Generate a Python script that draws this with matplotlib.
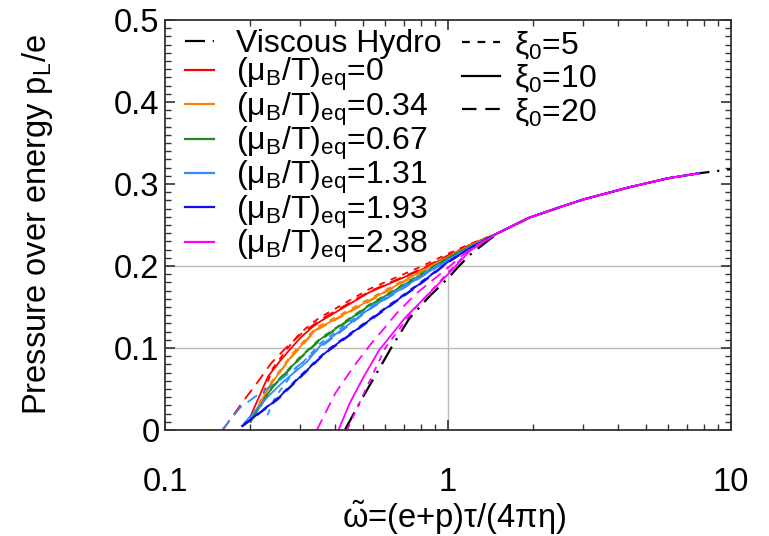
import matplotlib

matplotlib.use("Agg")
import matplotlib.pyplot as plt
from matplotlib.lines import Line2D
from matplotlib.ticker import FixedLocator, LogLocator, NullFormatter

plt.rcParams["font.family"] = ["Liberation Sans", "DejaVu Sans"]
plt.rcParams["mathtext.fontset"] = "custom"
plt.rcParams["mathtext.rm"] = "Liberation Sans"
plt.rcParams["mathtext.it"] = "Liberation Sans"

# Shared tail: all curves merge above omega ~ 1.3
COMMON_X = [1.5, 1.94, 2.5, 3.0, 4.37, 6.0, 7.7]
COMMON_Y = [0.240, 0.259, 0.272, 0.281, 0.296, 0.307, 0.313]

# Viscous hydro (black dash-dot), runs to the right edge
HYDRO_X = [0.432, 0.5, 0.632, 0.73, 0.86, 1.0, 1.08, 1.2, 1.35]
HYDRO_Y = [0.0, 0.040, 0.101, 0.136, 0.163, 0.185, 0.198, 0.214, 0.228]
HYDRO_END_X = [10.0]
HYDRO_END_Y = [0.318]

MU_LABELS = ["0", "0.34", "0.67", "1.31", "1.93", "2.38"]
MU_COLORS = ["#ff0000", "#ff8000", "#1e8c1e", "#2f8cff", "#1010ee", "#ff00ff"]
XI_LABELS = ["5", "10", "20"]

# (x, y) per mu, per xi0 = 5, 10, 20 (before joining the common tail)
RED_X = [
    [0.215, 0.24, 0.276, 0.3, 0.33, 0.352, 0.528, 0.8, 1.0, 1.2],
    [0.2, 0.231, 0.256, 0.276, 0.3, 0.33, 0.352, 0.528, 0.8, 1.0, 1.2],
    [0.16, 0.188, 0.211, 0.238, 0.269, 0.3, 0.352, 0.528, 0.8, 1.0, 1.2],
]
RED_Y = [
    [0.03, 0.075, 0.103, 0.118, 0.130, 0.137, 0.172, 0.199, 0.215, 0.227],
    [0.016, 0.065, 0.085, 0.098, 0.112, 0.125, 0.132, 0.168, 0.195, 0.212, 0.226],
    [0.0, 0.034, 0.057, 0.082, 0.101, 0.116, 0.134, 0.169, 0.196, 0.213, 0.226],
]
ORANGE_X = [
    [0.205, 0.238, 0.28, 0.34, 0.528, 0.8, 1.0, 1.2],
    [0.2, 0.238, 0.28, 0.34, 0.528, 0.8, 1.0, 1.2],
    [0.2, 0.236, 0.28, 0.34, 0.528, 0.8, 1.0, 1.2],
]
ORANGE_Y = [
    [0.014, 0.059, 0.092, 0.124, 0.160, 0.194, 0.211, 0.225],
    [0.012, 0.057, 0.090, 0.122, 0.158, 0.193, 0.211, 0.225],
    [0.010, 0.056, 0.089, 0.121, 0.157, 0.192, 0.210, 0.225],
]
GREEN_X = [
    [0.2, 0.24, 0.3, 0.352, 0.528, 0.8, 1.0, 1.2],
    [0.2, 0.24, 0.3, 0.352, 0.528, 0.8, 1.0, 1.2],
    [0.2, 0.24, 0.3, 0.352, 0.528, 0.8, 1.0, 1.2],
]
GREEN_Y = [
    [0.011, 0.054, 0.089, 0.111, 0.153, 0.190, 0.210, 0.224],
    [0.010, 0.053, 0.088, 0.110, 0.152, 0.189, 0.210, 0.224],
    [0.009, 0.052, 0.087, 0.109, 0.151, 0.188, 0.209, 0.224],
]
LBLUE_X = [
    [0.23, 0.245, 0.28, 0.352, 0.528, 0.8, 1.0, 1.2],
    [0.19, 0.23, 0.26, 0.317, 0.352, 0.528, 0.8, 1.0, 1.2],
    [0.159, 0.184, 0.207, 0.255, 0.3, 0.352, 0.528, 0.8, 1.0, 1.2],
]
LBLUE_Y = [
    [0.018, 0.040, 0.067, 0.105, 0.150, 0.189, 0.208, 0.223],
    [0.008, 0.040, 0.058, 0.083, 0.102, 0.148, 0.187, 0.207, 0.223],
    [0.0, 0.027, 0.040, 0.061, 0.080, 0.100, 0.147, 0.186, 0.207, 0.223],
]
BLUE_X = [
    [0.19, 0.248, 0.352, 0.38, 0.528, 0.8, 1.0, 1.2],
    [0.187, 0.248, 0.352, 0.38, 0.528, 0.8, 1.0, 1.2],
    [0.187, 0.25, 0.352, 0.38, 0.528, 0.8, 1.0, 1.2],
]
BLUE_Y = [
    [0.006, 0.038, 0.089, 0.099, 0.135, 0.180, 0.205, 0.222],
    [0.005, 0.037, 0.088, 0.098, 0.134, 0.179, 0.205, 0.222],
    [0.004, 0.037, 0.087, 0.097, 0.133, 0.178, 0.204, 0.222],
]
MAG_X = [
    [0.44, 0.5, 0.6, 0.75, 1.0, 1.2],
    [0.41, 0.45, 0.5, 0.57, 0.71, 0.86, 1.0, 1.2],
    [0.344, 0.4, 0.47, 0.537, 0.582, 0.657, 0.77, 1.0, 1.2],
]
MAG_Y = [
    [0.0, 0.042, 0.100, 0.145, 0.192, 0.220],
    [0.0, 0.033, 0.063, 0.097, 0.138, 0.167, 0.190, 0.219],
    [0.0, 0.045, 0.080, 0.106, 0.120, 0.142, 0.166, 0.198, 0.221],
]

CURVES_X = [RED_X, ORANGE_X, GREEN_X, LBLUE_X, BLUE_X, MAG_X]
CURVES_Y = [RED_Y, ORANGE_Y, GREEN_Y, LBLUE_Y, BLUE_Y, MAG_Y]

XI_STYLES = [(0, (3.5, 3.5)), "-", (0, (6.5, 4))]
HYDRO_STYLE = (0, (9, 3.5, 1, 3.5))
FS = 23.5
LFS = 23

fig = plt.figure(figsize=(7.69, 5.36), dpi=100)
ax = fig.add_axes([0.2146, 0.1978, 0.736, 0.765])

# grid only visible below the key
ax.axhline(0.1, color="#bbbbbb", lw=1.0, zorder=0)
ax.axhline(0.2, color="#bbbbbb", lw=1.0, zorder=0)
ax.vlines(1.0, 0.0, 0.2, color="#bbbbbb", lw=1.0, zorder=0)

ax.plot(HYDRO_X + COMMON_X + HYDRO_END_X, HYDRO_Y + COMMON_Y + HYDRO_END_Y,
        color="black", lw=1.6, linestyle=HYDRO_STYLE)

for color, xs_mu, ys_mu in zip(MU_COLORS, CURVES_X, CURVES_Y):
    for style, xs, ys in zip(XI_STYLES, xs_mu, ys_mu):
        ax.plot(xs + COMMON_X, ys + COMMON_Y, color=color, lw=1.3, linestyle=style)

ax.set_xscale("log")
ax.set_xlim(0.1, 10)
ax.set_ylim(0, 0.5)
ax.xaxis.set_major_locator(FixedLocator([0.1, 1, 10]))
ax.set_xticklabels(["0.1", "1", "10"])
ax.xaxis.set_minor_locator(LogLocator(base=10, subs=range(2, 10)))
ax.xaxis.set_minor_formatter(NullFormatter())
ax.set_yticks([0, 0.1, 0.2, 0.3, 0.4, 0.5])
ax.set_yticklabels(["0", "0.1", "0.2", "0.3", "0.4", "0.5"])
ax.yaxis.set_minor_locator(FixedLocator([i / 100 for i in range(51)]))
ax.tick_params(which="both", direction="in", top=True, right=True,
               labelsize=FS, color="#333333")
ax.tick_params(axis="x", which="major", length=7, width=1.2, pad=27)
ax.tick_params(axis="y", which="major", length=7, width=1.2, pad=4)
ax.tick_params(which="minor", length=4, width=1.0)
for sp in ax.spines.values():
    sp.set_linewidth(1.3)
    sp.set_color("#333333")

ax.set_ylabel("Pressure over energy p$_\\mathregular{L}$/e", fontsize=FS)
ax.set_xlabel(r"$\tilde{\omega}$=(e+p)τ/(4πη)", fontsize=FS)
ax.yaxis.set_label_coords(-0.195, 0.5)
ax.xaxis.set_label_coords(0.51, -0.168)

# key: left column (hydro + mu), right column (xi0 styles)
left_handles = [Line2D([], [], color="black", lw=1.6, linestyle=HYDRO_STYLE)]
left_labels = ["Viscous Hydro"]
for color, mu in zip(MU_COLORS, MU_LABELS):
    left_handles.append(Line2D([], [], color=color, lw=1.6))
    left_labels.append("(μ$_\\mathregular{B}$/T)$_\\mathregular{eq}$=" + mu)
leg1 = ax.legend(left_handles, left_labels, loc="upper left",
                 bbox_to_anchor=(0.035, 0.978), frameon=False, fontsize=LFS,
                 handlelength=0.92, handletextpad=0.67, labelspacing=-0.09,
                 borderpad=0, borderaxespad=0)
ax.add_artist(leg1)

right_handles = [Line2D([], [], color="black", lw=1.6, linestyle=s) for s in XI_STYLES]
right_labels = ["ξ$_\\mathregular{0}$=" + xi for xi in XI_LABELS]
ax.legend(right_handles, right_labels, loc="upper left",
          bbox_to_anchor=(0.525, 0.978), frameon=False, fontsize=LFS,
          handlelength=1.17, handletextpad=0.45, labelspacing=0.05,
          borderpad=0, borderaxespad=0)

fig.savefig("out.png", dpi=100)
